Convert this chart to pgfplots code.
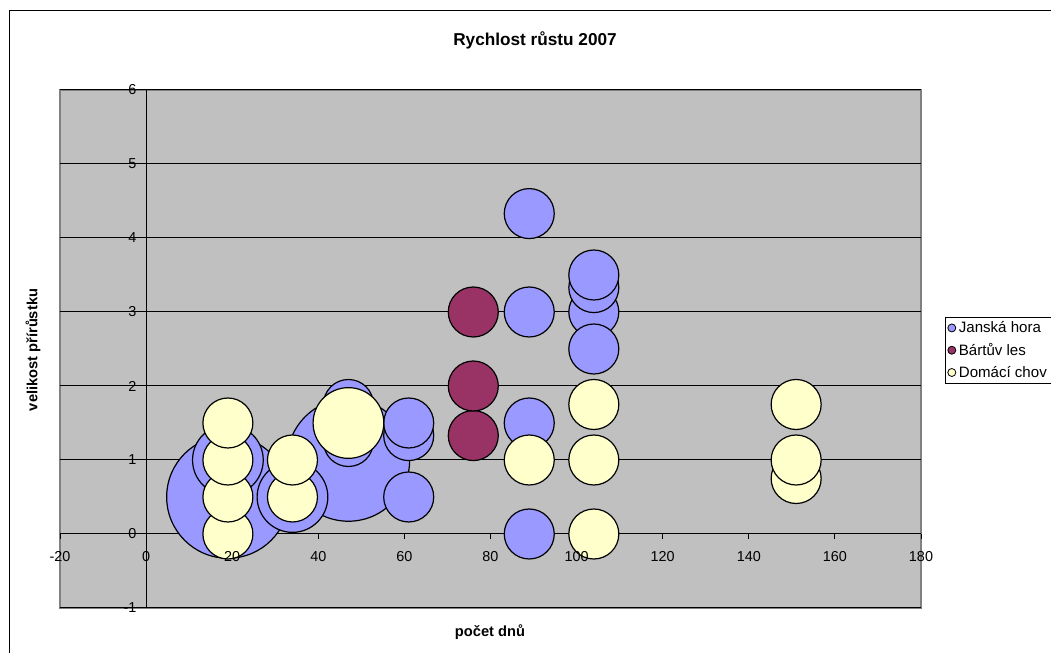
\documentclass[border=0pt]{standalone}
\usepackage{fontspec}
\setmainfont{Liberation Sans}
\usepackage{pgfplots}
\usepackage{pgfplotstable}
\pgfplotsset{compat=1.18}

\definecolor{plotbg}{HTML}{C0C0C0}
\definecolor{plotframe}{HTML}{808080}
\definecolor{janska}{HTML}{9999FF}
\definecolor{bartuv}{HTML}{993366}
\definecolor{domaci}{HTML}{FFFFCC}

% x = days, y = growth, s = bubble size (area)
\pgfplotstableread{
x   y     s
19  0.5   6
47  1     6
19  1     2
34  0.5   2
47  1.25  1
47  1.75  1
61  0.5   1
61  1.33  1
61  1.5   1
89  0     1
89  1.5   1
89  3     1
89  4.33  1
104 3     1
104 3.33  1
104 3.5   1
104 2.5   1
}\janskatab

\pgfplotstableread{
x   y     s
76  1.33  1
76  2     1
76  3     1
}\bartuvtab

\pgfplotstableread{
x   y     s
19  0     1
19  0.5   1
19  1     1
19  1.5   1
34  0.5   1
34  1     1
47  1.5   2
89  1     1
104 0     1
104 1     1
104 1.75  1
151 0.75  1
151 1     1
151 1.75  1
}\domacitab

\pgfplotsset{
  frame/.style={
    at={(45pt,33.75pt)}, anchor=south west,
    scale only axis, width=645.75pt, height=388.5pt,
    xmin=-20, xmax=180, ymin=-1, ymax=6,
    axis lines=middle,
    xtick={-20,0,...,180}, ytick={-1,0,...,6},
    hide obscured x ticks=false, hide obscured y ticks=false,
    tick align=outside, major tick length=3.75pt,
    ticklabel style={font=\fontsize{10.8}{12}\selectfont},
    xticklabel style={yshift=-6pt},
    /pgf/number format/assume math mode=true,
    clip=false,
  },
  bubble/.style={
    scatter, only marks, mark=*,
    scatter src=explicit,
    scatter/use mapped color={draw=black, fill=#1},
    visualization depends on={18.75*sqrt(\thisrow{s}) \as \bubr},
    scatter/@pre marker code/.append style={/tikz/mark size=\bubr},
    mark options={line width=0.9pt},
    legend image code/.code={\draw[fill=#1, draw=black, line width=0.6pt] (2.5pt,0) circle (3pt);}
  }
}

\begin{document}
\begin{tikzpicture}
\useasboundingbox (0,0) rectangle (788.25pt,489.75pt);
\clip (0,0) rectangle (788.25pt,489.75pt);
\draw[black, line width=0.75pt] (6.75pt,-5pt) rectangle (820pt,481.9pt);

% plot area, grid, axis lines, bubbles and legend
\begin{axis}[
  frame,
  xticklabels={}, yticklabels={},
  axis line style={-, black, line width=0.75pt},
  tick style={black, line width=0.75pt},
  ymajorgrids, grid style={black, line width=0.75pt},
  axis background/.style={fill=plotbg, draw=plotframe, line width=1.2pt},
  legend cell align=left,
  legend style={at={(1.0279,0.5618)}, anchor=north west,
    draw=black, fill=white, line width=0.6pt,
    font=\fontsize{11.3}{13}\selectfont,
    inner xsep=1.5pt, inner ysep=1pt, row sep=2.5pt,
    /tikz/every even column/.append style={column sep=0pt}},
]
\addplot[bubble=janska] table[x=x, y=y, meta=s] {\janskatab};
\addlegendentry{Janská hora}
\addplot[bubble=bartuv] table[x=x, y=y, meta=s] {\bartuvtab};
\addlegendentry{Bártův les}
\addplot[bubble=domaci] table[x=x, y=y, meta=s] {\domacitab};
\addlegendentry{Domácí chov}
\end{axis}

% tick labels, set over the bubbles
\begin{axis}[
  frame,
  axis line style={draw=none},
  tick style={draw=none},
]
\end{axis}

\node[font=\bfseries\fontsize{12.9}{15}\selectfont] at (401.25pt,459.75pt) {Rychlost růstu 2007};
\node[font=\bfseries\fontsize{11}{13}\selectfont] at (367.5pt,15.75pt) {počet dnů};
\node[rotate=90, font=\bfseries\fontsize{11}{13}\selectfont] at (24.75pt,227.25pt) {velikost přírůstku};
\end{tikzpicture}
\end{document}
